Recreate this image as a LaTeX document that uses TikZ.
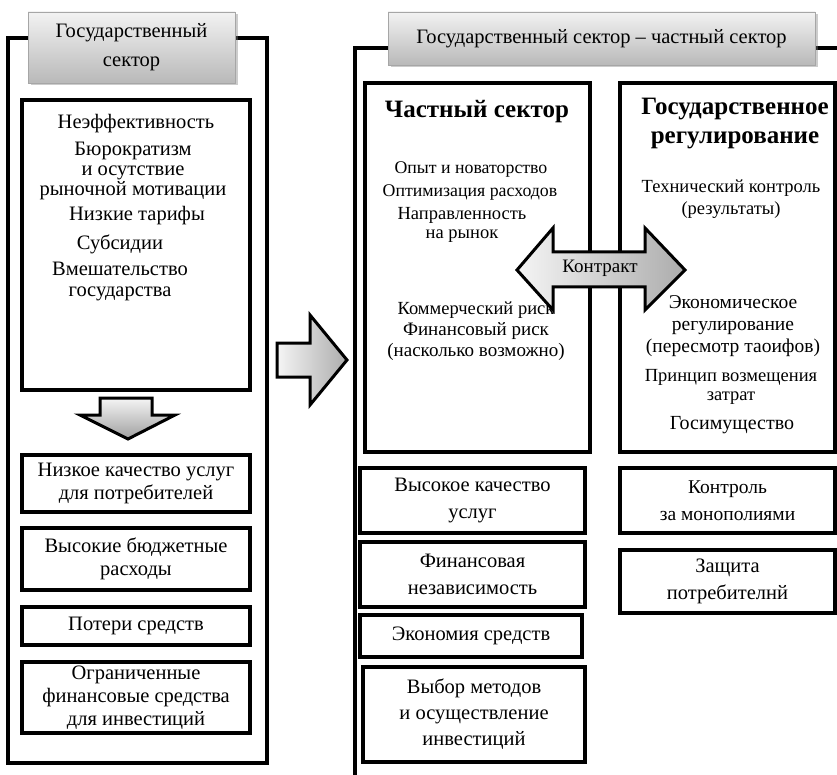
\documentclass[tikz,border=0pt]{standalone}
\usepackage{fontspec}
\setmainfont{Liberation Serif}
\usetikzlibrary{shadows}

\begin{document}
\begin{tikzpicture}[x=1pt,y=-1pt,
	frame/.style={line width=4pt},
	hdr/.style={draw=gray!70, line width=0.8pt, top color=gray!10, bottom color=gray!55,
		drop shadow={shadow xshift=2.5pt, shadow yshift=-2.5pt, opacity=0.4},
		align=center, inner sep=0pt, font=\fontsize{20.5}{29}\selectfont},
	cell/.style={draw, line width=3.5pt, fill=white, align=center, inner sep=0pt,
		font=\fontsize{20.5}{23}\selectfont},
	cellwide/.style={cell, font=\fontsize{20.5}{27}\selectfont},
	txt/.style={align=center, inner sep=0pt, font=\fontsize{20.5}{20}\selectfont},
	txts/.style={align=center, inner sep=0pt, font=\fontsize{18.5}{19}\selectfont},
	ttl/.style={align=center, inner sep=0pt, font=\fontsize{25}{29}\selectfont\bfseries},
	blockarrow/.style={draw, line width=3pt, line join=miter}]
	\useasboundingbox (0,0) rectangle (837,775);

	% left column: public sector
	\draw[frame] (8,38) rectangle (267,763);
	\node[hdr, minimum width=207, minimum height=71] (pubhdr) at (131.5,47.5) {Государственный\\сектор};
	\node[cell, minimum width=228, minimum height=290] (pubbox) at (136,245) {};
	\node[txt] (ineff) at (136,124) {Неэффективность};
	\node[txt] (bureau) at (133,171) {Бюрократизм\\и осутствие\\рыночной мотивации};
	\node[txt] (tariff) at (137,216) {Низкие тарифы};
	\node[txt] (subsid) at (120,244) {Субсидии};
	\node[txt, font=\fontsize{20.5}{21}\selectfont] (interv) at (120,282) {Вмешательство\\государства};
	\shade[blockarrow, top color=gray!8, bottom color=gray!75]
		(100,398) -- (152,398) -- (152,415) -- (175,415) -- (128,439) -- (80,415) -- (100,415) -- cycle;
	\node[cell, minimum width=228, minimum height=57] (lowq) at (136,483.5) {Низкое качество услуг\\для потребителей};
	\node[cell, minimum width=228, minimum height=62] (budget) at (136,559) {Высокие бюджетные\\расходы};
	\node[cell, minimum width=228, minimum height=38] (loss) at (136,626) {Потери средств};
	\node[cell, minimum width=228, minimum height=71] (limfin) at (136,697.5) {Ограниченные\\финансовые средства\\для инвестиций};

	% transition
	\shade[blockarrow, left color=gray!8, right color=gray!65]
		(277,343) -- (310,343) -- (310,315) -- (347,360) -- (310,405) -- (310,377) -- (277,377) -- cycle;

	% right column: public-private
	\draw[frame] (837,48) -- (355,48) -- (355,775);
	\node[hdr, minimum width=427, minimum height=53] (pphdr) at (601.5,38.5) {Государственный сектор – частный сектор};

	\node[cell, minimum width=225, minimum height=369] (privbox) at (477.5,267.5) {};
	\node[ttl] (privttl) at (477,112) {Частный сектор};
	\node[txts, font=\fontsize{17.8}{19}\selectfont] (exper) at (471,170) {Опыт и новаторство};
	\node[txts, font=\fontsize{17.8}{19}\selectfont] (optim) at (470,193) {Оптимизация расходов};
	\node[txts] (market) at (462,225) {Направленность\\на рынок};
	\node[txts] (comrisk) at (476,310) {Коммерческий риск};
	\node[txts, font=\fontsize{19}{21}\selectfont] (finrisk) at (476,342) {Финансовый риск\\(насколько возможно)};

	\node[cell, minimum width=215, minimum height=369] (regbox) at (727.5,267.5) {};
	\node[ttl] (regttl) at (735,124) {Государственное\\регулирование};
	\node[txts, font=\fontsize{18.5}{22}\selectfont] (techctl) at (731,199) {Технический контроль\\(результаты)};
	\node[txts, font=\fontsize{19.5}{22}\selectfont] (econreg) at (733,326) {Экономическое\\регулирование\\(пересмотр таоифов)};
	\node[txts] (costrec) at (731,387) {Принцип возмещения\\затрат};
	\node[txts, font=\fontsize{20}{20}\selectfont] (stprop) at (732,425) {Госимущество};

	% contract arrow over both boxes
	\shade[blockarrow, left color=gray!8, right color=gray!65]
		(517,270) -- (553,228) -- (553,252) -- (645,252) -- (645,228) -- (685,270)
		-- (645,310) -- (645,287) -- (553,287) -- (553,310) -- cycle;
	\node[txt, font=\fontsize{19}{20}\selectfont] (contract) at (600,268) {Контракт};

	\node[cellwide, minimum width=225, minimum height=65] (highq) at (472.5,500.5) {Высокое качество\\услуг};
	\node[cellwide, minimum width=225, minimum height=65] (finind) at (472.5,574.5) {Финансовая\\независимость};
	\node[cell, minimum width=222, minimum height=42] (saving) at (471,636) {Экономия средств};
	\node[cellwide, font=\fontsize{20.5}{26}\selectfont, minimum width=222, minimum height=95] (invest) at (474,714.5) {Выбор методов\\и осуществление\\инвестиций};
	\node[cellwide, font=\fontsize{19.5}{27}\selectfont, minimum width=215, minimum height=65] (monop) at (727.5,500.5) {Контроль\\за монополиями};
	\node[cellwide, minimum width=215, minimum height=63] (protect) at (727.5,581.5) {Защита\\потребителнй};
\end{tikzpicture}
\end{document}
